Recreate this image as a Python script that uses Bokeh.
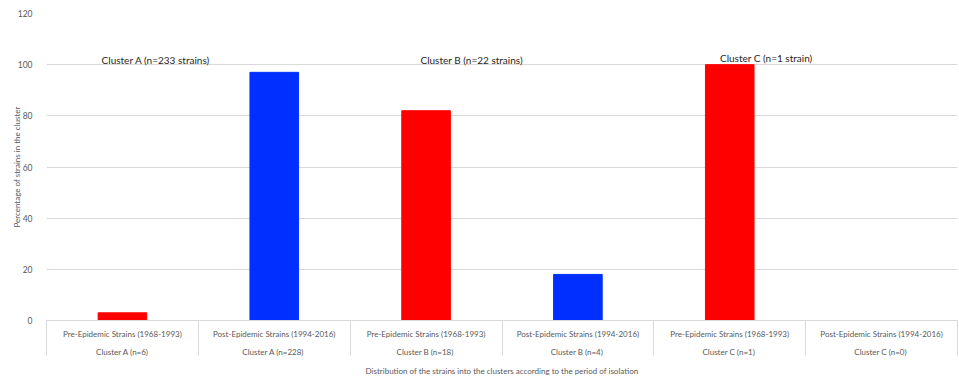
from bokeh.plotting import figure
from bokeh.models import Range1d, LinearAxis, FixedTicker, Label, ColumnDataSource
from bokeh.embed import file_html
from bokeh.resources import INLINE

# ---- data ----
periods = ["Pre-Epidemic Strains (1968-1993)", "Post-Epidemic Strains (1994-2016)",
           "Pre-Epidemic Strains (1968-1993)", "Post-Epidemic Strains (1994-2016)",
           "Pre-Epidemic Strains (1968-1993)", "Post-Epidemic Strains (1994-2016)"]
clusters = ["Cluster A (n=6)", "Cluster A  (n=228)", "Cluster B  (n=18)",
            "Cluster B  (n=4)", "Cluster C  (n=1)", "Cluster C  (n=0)"]
percentages = [3, 97, 82, 18, 100, 0]
bar_colors = ["#ff0000", "#0030ff", "#ff0000", "#0030ff", "#ff0000", "#0030ff"]
group_titles = ["Cluster A (n=233 strains)", "Cluster B (n=22 strains)", "Cluster C (n=1 strain)"]
y_ticks = [0, 20, 40, 60, 80, 100, 120]

FONT = "Lato"
GRAY = "#595959"
LIGHT = "#d9d9d9"

n = len(percentages)
centers = [i + 0.5 for i in range(n)]

p = figure(width=959, height=378, x_range=Range1d(0, n), y_range=Range1d(0, 120),
           output_backend="svg", toolbar_location=None, x_axis_location=None,
           min_border_left=46, min_border_right=2, min_border_top=13, min_border_bottom=57)
p.outline_line_color = None
p.background_fill_color = "white"
p.border_fill_color = "white"

src = ColumnDataSource(dict(x=centers, top=percentages, color=bar_colors))
p.vbar(x="x", top="top", width=0.32, color="color", source=src)

# y axis
ya = p.yaxis[0]
ya.ticker = FixedTicker(ticks=y_ticks)
ya.axis_line_color = None
ya.major_tick_line_color = None
ya.minor_tick_line_color = None
ya.major_label_text_color = GRAY
ya.major_label_text_font = FONT
ya.major_label_text_font_size = "8.5px"
ya.major_label_standoff = 8
ya.axis_label = "Percentage of strains in the cluster"
ya.axis_label_text_font = FONT
ya.axis_label_text_font_size = "8px"
ya.axis_label_text_font_style = "normal"
ya.axis_label_text_color = GRAY
ya.axis_label_standoff = -7

p.xgrid.visible = False
p.ygrid.grid_line_color = LIGHT
p.ygrid.ticker = FixedTicker(ticks=y_ticks)

# first row of category labels (periods) with separators
ax1 = LinearAxis(ticker=FixedTicker(ticks=centers, minor_ticks=list(range(n + 1))))
ax1.major_label_overrides = {c: lab for c, lab in zip(centers, periods)}
ax1.axis_line_color = LIGHT
ax1.major_tick_line_color = None
ax1.major_tick_out = 0
ax1.major_tick_in = 0
ax1.minor_tick_line_color = LIGHT
ax1.minor_tick_out = 0
ax1.minor_tick_in = -35
ax1.major_label_standoff = 8
ax1.major_label_text_font = FONT
ax1.major_label_text_font_size = "8px"
ax1.major_label_text_color = GRAY
ax1.major_label_orientation = "horizontal"
p.add_layout(ax1, "below")

# second row (cluster labels) + axis title
ax2 = LinearAxis(ticker=FixedTicker(ticks=centers, minor_ticks=[]))
ax2.major_label_overrides = {c: lab for c, lab in zip(centers, clusters)}
ax2.axis_line_color = None
ax2.major_tick_line_color = None
ax2.major_tick_out = 0
ax2.major_tick_in = 0
ax2.minor_tick_line_color = None
ax2.major_label_standoff = 5
ax2.major_label_text_font = FONT
ax2.major_label_text_font_size = "8px"
ax2.major_label_text_color = GRAY
ax2.axis_label = "Distribution of the strains into the clusters according to the period of isolation"
ax2.axis_label_text_font = FONT
ax2.axis_label_text_font_size = "8px"
ax2.axis_label_text_font_style = "normal"
ax2.axis_label_text_color = GRAY
ax2.axis_label_standoff = 6
p.add_layout(ax2, "below")

# group annotations
title_pos = [(0.72, 102), (2.80, 102), (4.74, 102.8)]
for t, (tx, ty) in zip(group_titles, title_pos):
    p.add_layout(Label(x=tx, y=ty, text=t, text_align="center", text_baseline="middle",
                       text_font=FONT, text_font_size="10px", text_color="#262626"))

open("out.html", "w").write(file_html(p, INLINE))
